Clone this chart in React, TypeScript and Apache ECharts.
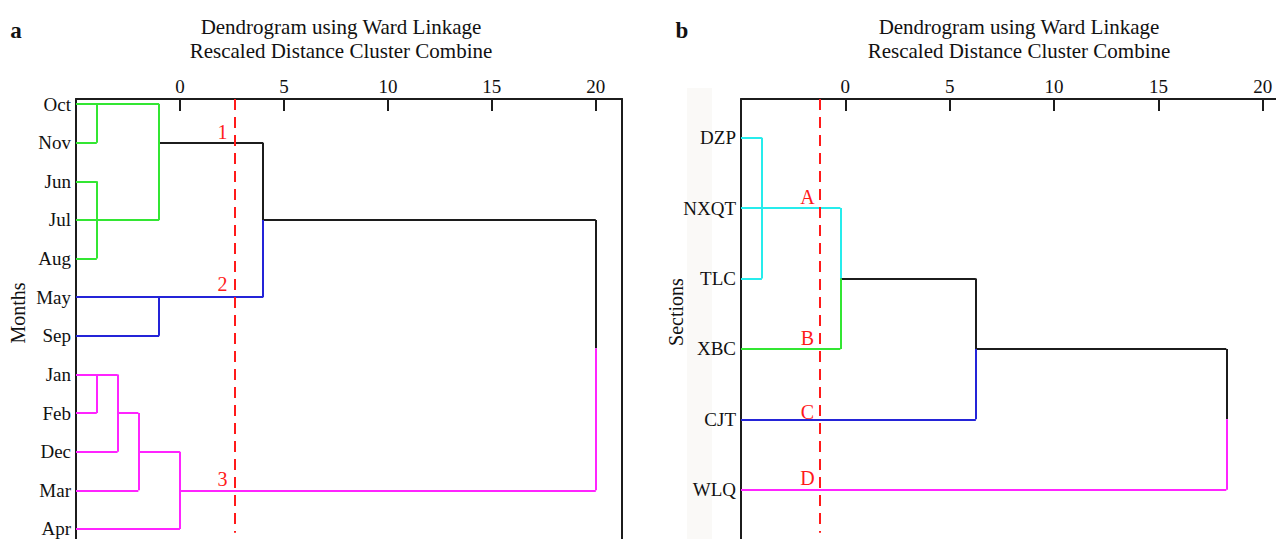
import React, { useEffect, useRef } from 'react';
import * as echarts from 'echarts';

// ---------- data ----------
const monthLabels = ['Oct', 'Nov', 'Jun', 'Jul', 'Aug', 'May', 'Sep', 'Jan', 'Feb', 'Dec', 'Mar', 'Apr'];
const sectionLabels = ['DZP', 'NXQT', 'TLC', 'XBC', 'CJT', 'WLQ'];
const distTicks = [0, 5, 10, 15, 20];

// horizontal links: [row, fromDistance, toDistance, cluster]
const monthHLinks: [number, number, number, string][] = [
  [0, -5, -1, 'green'],
  [1, -5, -4, 'green'],
  [1, -1, 4, 'black'],
  [2, -5, -4, 'green'],
  [3, -5, -1, 'green'],
  [3, 4, 20, 'black'],
  [4, -5, -4, 'green'],
  [5, -5, 4, 'blue'],
  [6, -5, -1, 'blue'],
  [7, -5, -3, 'magenta'],
  [8, -5, -4, 'magenta'],
  [8, -3, -2, 'magenta'],
  [9, -5, -3, 'magenta'],
  [9, -2, 0, 'magenta'],
  [10, -5, -2, 'magenta'],
  [10, 0, 20, 'magenta'],
  [11, -5, 0, 'magenta'],
];
// vertical links: [distance, fromRow, toRow, cluster]
const monthVLinks: [number, number, number, string][] = [
  [-4, 0, 1, 'green'],
  [-4, 2, 4, 'green'],
  [-1, 0, 3, 'green'],
  [4, 1, 3, 'black'],
  [4, 3, 5, 'blue'],
  [-1, 5, 6, 'blue'],
  [20, 3, 6.32, 'black'],
  [20, 6.32, 10, 'magenta'],
  [-4, 7, 8, 'magenta'],
  [-3, 7, 9, 'magenta'],
  [-2, 8, 10, 'magenta'],
  [0, 9, 11, 'magenta'],
];
const monthCut = 2.63;
const monthCutRows: [number, number] = [-0.13, 11.1];
const monthCutLabels: [string, number, number][] = [
  ['1', 2.04, 0.72],
  ['2', 2.04, 4.66],
  ['3', 2.04, 9.7],
];

const sectionHLinks: [number, number, number, string][] = [
  [0, -5, -4, 'cyan'],
  [1, -5, -0.24, 'cyan'],
  [2, -5, -4, 'cyan'],
  [2, -0.24, 6.25, 'black'],
  [3, -5, -0.24, 'green'],
  [3, 6.25, 18.25, 'black'],
  [4, -5, 6.25, 'blue'],
  [5, -5, 18.25, 'magenta'],
];
const sectionVLinks: [number, number, number, string][] = [
  [-4, 0, 2, 'cyan'],
  [-0.24, 1, 2, 'cyan'],
  [-0.24, 2, 3, 'green'],
  [6.25, 2, 3, 'black'],
  [6.25, 3, 4, 'blue'],
  [18.25, 3, 4, 'black'],
  [18.25, 4, 5, 'magenta'],
];
const sectionCut = -1.24;
const sectionCutRows: [number, number] = [-0.55, 5.61];
const sectionCutLabels: [string, number, number][] = [
  ['A', -1.82, 0.84],
  ['B', -1.82, 2.85],
  ['C', -1.82, 3.9],
  ['D', -1.82, 4.84],
];

// ---------- styles ----------
const FONT = "'Liberation Serif', 'Times New Roman', serif";
const INK = '#1c1c1c';
const RED = '#ff1a1a';
const clusterColors: Record<string, string> = {
  green: '#33e633',
  blue: '#2424d8',
  magenta: '#ff24ff',
  cyan: '#26ecec',
  black: '#1c1c1c',
};

function linkSegments(h: [number, number, number, string][], v: [number, number, number, string][]) {
  return [
    ...h.map(([row, a, b, c]) => ({ coords: [[a, row], [b, row]], lineStyle: { color: clusterColors[c] } })),
    ...v.map(([d, r1, r2, c]) => ({ coords: [[d, r1], [d, r2]], lineStyle: { color: clusterColors[c] } })),
  ];
}

function xAxisFor(gridIndex: number, max: number) {
  return {
    gridIndex,
    type: 'value',
    position: 'top',
    min: -5,
    max,
    interval: 5,
    axisLine: { show: true, onZero: false, lineStyle: { color: INK, width: 2 } },
    axisTick: { show: true, inside: true, length: 12, customValues: distTicks, lineStyle: { color: INK, width: 2 } },
    axisLabel: {
      customValues: distTicks,
      margin: 3,
      fontSize: 19,
      fontFamily: FONT,
      color: '#111',
      formatter: (val: number) => String(val),
    },
    splitLine: { show: false },
  };
}

function yAxisFor(gridIndex: number, labels: string[], min: number, max: number) {
  return {
    gridIndex,
    type: 'value',
    inverse: true,
    min,
    max,
    axisLine: { show: true, onZero: false, lineStyle: { color: INK, width: 2 } },
    axisTick: { show: false },
    splitLine: { show: false },
    axisLabel: {
      customValues: labels.map((_, i) => i),
      formatter: (val: number) => labels[Math.round(val)] ?? '',
      fontSize: 19,
      fontFamily: FONT,
      color: '#111',
      margin: 5,
    },
  };
}

function cutSeries(xAxisIndex: number, x: number, rows: [number, number], labels: [string, number, number][]) {
  return [
    {
      type: 'lines',
      coordinateSystem: 'cartesian2d',
      xAxisIndex,
      yAxisIndex: xAxisIndex,
      silent: true,
      z: 5,
      lineStyle: { color: RED, width: 2, type: [11, 7], opacity: 1 },
      data: [{ coords: [[x, rows[0]], [x, rows[1]]] }],
    },
    {
      type: 'scatter',
      xAxisIndex,
      yAxisIndex: xAxisIndex,
      symbolSize: 1,
      silent: true,
      z: 6,
      itemStyle: { color: 'rgba(255,255,255,0)' },
      label: {
        show: true,
        position: 'inside',
        formatter: '{b}',
        color: RED,
        opacity: 1,
        textBorderWidth: 0,
        fontSize: 20,
        fontFamily: FONT,
      },
      data: labels.map(([name, d, r]) => ({ name, value: [d, r] })),
    },
  ];
}

function titleTexts(cx: number) {
  return [
    {
      type: 'text',
      x: cx,
      y: 27,
      silent: true,
      style: { text: 'Dendrogram using Ward Linkage', fontSize: 21, fontFamily: FONT, fill: '#111', align: 'center', verticalAlign: 'middle' },
    },
    {
      type: 'text',
      x: cx,
      y: 51,
      silent: true,
      style: { text: 'Rescaled Distance Cluster Combine', fontSize: 21, fontFamily: FONT, fill: '#111', align: 'center', verticalAlign: 'middle' },
    },
  ];
}

const option: any = {
  animation: false,
  backgroundColor: '#ffffff',
  grid: [
    { left: 76, top: 99, width: 546, height: 440, show: false },
    { left: 741, top: 99, width: 535, height: 440, show: false },
  ],
  xAxis: [xAxisFor(0, 21.26), xAxisFor(1, 20.63)],
  yAxis: [
    yAxisFor(0, monthLabels, -0.13, 11.26),
    yAxisFor(1, sectionLabels, -0.55, 5.7),
    {
      gridIndex: 0,
      type: 'value',
      position: 'right',
      min: 0,
      max: 1,
      axisLine: { show: true, onZero: false, lineStyle: { color: INK, width: 2 } },
      axisTick: { show: false },
      axisLabel: { show: false },
      splitLine: { show: false },
    },
  ],
  graphic: [
    { type: 'rect', z: -1, silent: true, shape: { x: 687, y: 88, width: 25, height: 451 }, style: { fill: '#faf9f7' } },
    { type: 'text', x: 16, y: 30, silent: true, style: { text: 'a', fontSize: 23, fontWeight: 'bold', fontFamily: FONT, fill: '#111', align: 'center', verticalAlign: 'middle' } },
    { type: 'text', x: 682, y: 30, silent: true, style: { text: 'b', fontSize: 23, fontWeight: 'bold', fontFamily: FONT, fill: '#111', align: 'center', verticalAlign: 'middle' } },
    ...titleTexts(341),
    ...titleTexts(1019),
    { type: 'text', x: 18, y: 313, rotation: Math.PI / 2, silent: true, style: { text: 'Months', fontSize: 20, fontFamily: FONT, fill: '#111', align: 'center', verticalAlign: 'middle' } },
    { type: 'text', x: 676, y: 312, rotation: Math.PI / 2, silent: true, style: { text: 'Sections', fontSize: 20, fontFamily: FONT, fill: '#111', align: 'center', verticalAlign: 'middle' } },
  ],
  series: [
    {
      type: 'lines',
      coordinateSystem: 'cartesian2d',
      xAxisIndex: 0,
      yAxisIndex: 0,
      silent: true,
      z: 3,
      lineStyle: { width: 2, opacity: 1 },
      data: linkSegments(monthHLinks, monthVLinks),
    },
    {
      type: 'lines',
      coordinateSystem: 'cartesian2d',
      xAxisIndex: 1,
      yAxisIndex: 1,
      silent: true,
      z: 3,
      lineStyle: { width: 2, opacity: 1 },
      data: linkSegments(sectionHLinks, sectionVLinks),
    },
    ...cutSeries(0, monthCut, monthCutRows, monthCutLabels),
    ...cutSeries(1, sectionCut, sectionCutRows, sectionCutLabels),
  ],
};

export default function App() {
  const ref = useRef<HTMLDivElement>(null);
  useEffect(() => {
    if (!ref.current) return;
    const chart = echarts.init(ref.current, null, { renderer: 'svg' });
    chart.setOption(option);
    return () => chart.dispose();
  }, []);
  return <div ref={ref} style={{ position: 'absolute', left: 0, top: 0, width: 1276, height: 539 }} />;
}
